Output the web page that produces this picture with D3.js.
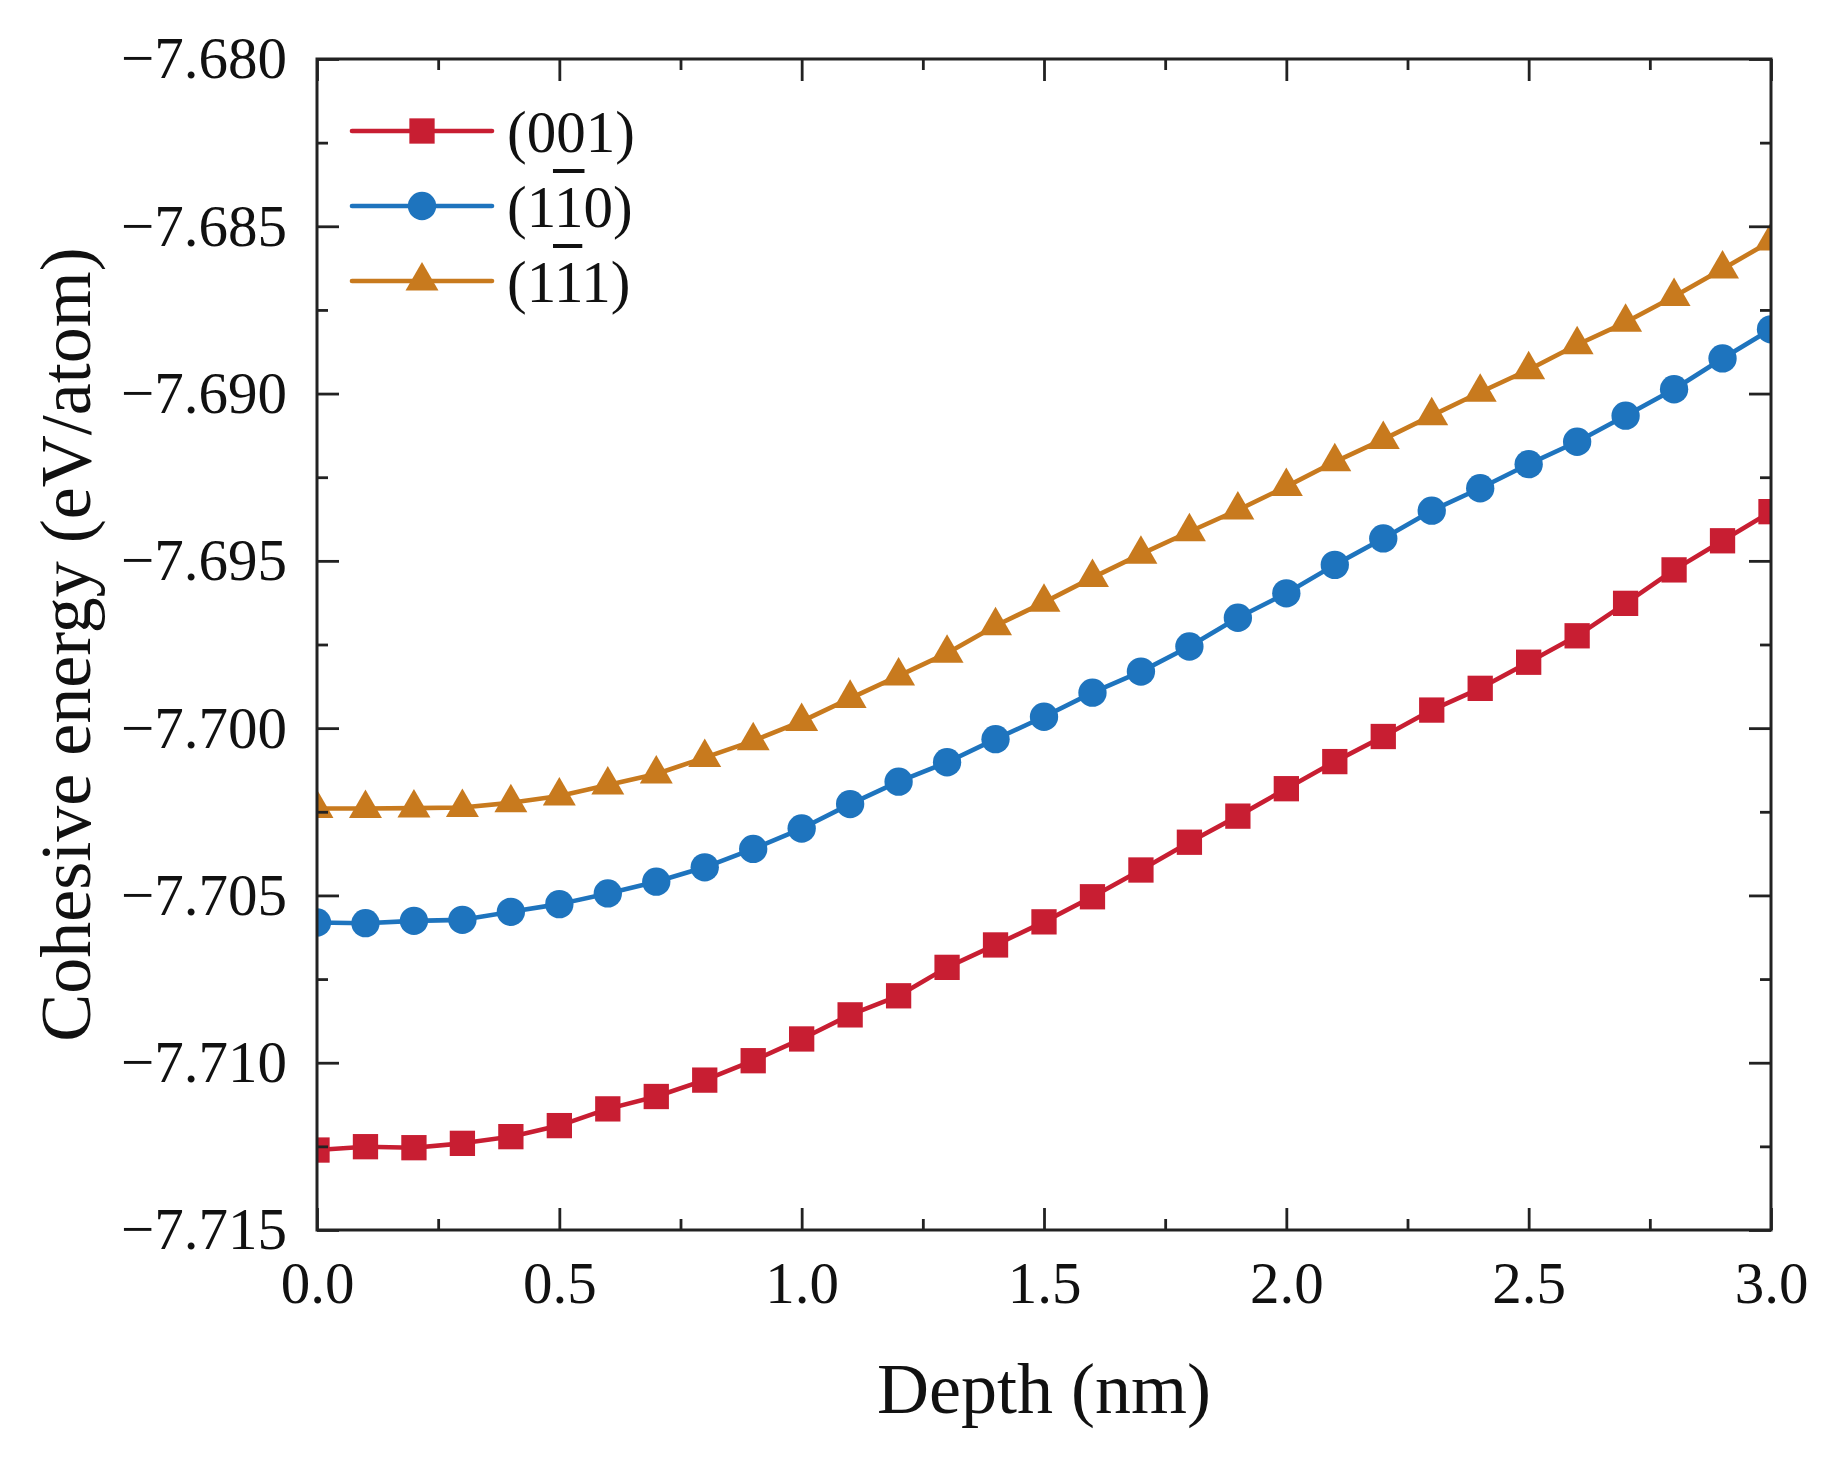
<!DOCTYPE html>
<html>
<head>
<meta charset="utf-8">
<script src="https://cdn.jsdelivr.net/npm/d3@7"></script>
<style>
  html, body { margin: 0; padding: 0; background: #fff; }
  svg { display: block; }
  text { font-family: "Liberation Serif", "Times New Roman", serif; fill: #111; }
</style>
</head>
<body>
<svg id="chart" width="1837" height="1462"></svg>
<script>
// ---------------- data ----------------
const depth = [0.0, 0.1, 0.2, 0.3, 0.4, 0.5, 0.6, 0.7, 0.8, 0.9, 1.0,
               1.1, 1.2, 1.3, 1.4, 1.5, 1.6, 1.7, 1.8, 1.9, 2.0,
               2.1, 2.2, 2.3, 2.4, 2.5, 2.6, 2.7, 2.8, 2.9, 3.0];

const e001 = [-7.71261, -7.71251, -7.71254, -7.71241, -7.71221, -7.71188, -7.71138, -7.71101, -7.71052, -7.70994, -7.70929,
              -7.70857, -7.70800, -7.70715, -7.70648, -7.70579, -7.70504, -7.70424, -7.70341, -7.70263, -7.70181,
              -7.70100, -7.70025, -7.69946, -7.69881, -7.69803, -7.69724, -7.69627, -7.69527, -7.69440, -7.69353];

const e1m10 = [-7.70581, -7.70583, -7.70576, -7.70573, -7.70549, -7.70526, -7.70494, -7.70459, -7.70416, -7.70361, -7.70300,
               -7.70227, -7.70160, -7.70102, -7.70033, -7.69966, -7.69894, -7.69831, -7.69756, -7.69670, -7.69597,
               -7.69512, -7.69433, -7.69350, -7.69283, -7.69211, -7.69144, -7.69066, -7.68987, -7.68895, -7.68808];

const e1m11 = [-7.70240, -7.70240, -7.70239, -7.70237, -7.70223, -7.70203, -7.70170, -7.70137, -7.70088, -7.70038, -7.69980,
               -7.69911, -7.69844, -7.69776, -7.69694, -7.69624, -7.69550, -7.69480, -7.69413, -7.69348, -7.69278,
               -7.69204, -7.69137, -7.69066, -7.68996, -7.68929, -7.68854, -7.68787, -7.68710, -7.68628, -7.68544];

// legend labels; a part with bar:true is drawn with an overbar (Miller index notation)
const legendParts = [
  [{t: "(001)", bar: false}],
  [{t: "(1", bar: false}, {t: "1", bar: true}, {t: "0)", bar: false}],
  [{t: "(1", bar: false}, {t: "1", bar: true}, {t: "1)", bar: false}]
];
const seriesColors = ["#C81E32", "#1E74BE", "#C87A1E"];
const seriesShapes = ["square", "circle", "triangle"];

const xMajorTicks = [0.0, 0.5, 1.0, 1.5, 2.0, 2.5, 3.0];
const xMinorTicks = [0.25, 0.75, 1.25, 1.75, 2.25, 2.75];
const yMajorTicks = [-7.680, -7.685, -7.690, -7.695, -7.700, -7.705, -7.710, -7.715];
const yMinorTicks = [-7.6825, -7.6875, -7.6925, -7.6975, -7.7025, -7.7075, -7.7125];

const xTitle = "Depth (nm)";
const yTitle = "Cohesive energy (eV/atom)";

// ---------------- layout ----------------
const L = 317, R = 1771, T = 59, B = 1230;
const svg = d3.select("#chart");

const x = d3.scaleLinear().domain([0, 3]).range([L, R]);
const y = d3.scaleLinear().domain([-7.715, -7.680]).range([B, T]);

const series = [e001, e1m10, e1m11].map((vals, i) => ({
  values: depth.map((d, j) => ({x: d, y: vals[j]})),
  color: seriesColors[i],
  shape: seriesShapes[i]
}));

const symbolFor = s => s === "square" ? d3.symbol(d3.symbolSquare, 640)
                     : s === "circle" ? d3.symbol(d3.symbolCircle, 630)
                     : d3.symbol(d3.symbolTriangle, 470);

// clip
svg.append("defs").append("clipPath").attr("id", "plotclip")
  .append("rect").attr("x", L).attr("y", T).attr("width", R - L).attr("height", B - T);

const plot = svg.append("g").attr("clip-path", "url(#plotclip)");
const line = d3.line().x(d => x(d.x)).y(d => y(d.y));

series.forEach(s => {
  plot.append("path").datum(s.values)
    .attr("d", line).attr("fill", "none")
    .attr("stroke", s.color).attr("stroke-width", 4.6).attr("stroke-linejoin", "round");
  plot.selectAll(null).data(s.values).enter().append("path")
    .attr("d", symbolFor(s.shape))
    .attr("transform", d => `translate(${x(d.x)},${y(d.y)})`)
    .attr("fill", s.color);
});

// ---------------- axes ----------------
const fmtX = d3.format(".1f");
const fmtY = d3.format(".3f");
const axisColor = "#222";

function styleAxis(g) {
  g.select(".domain").remove();
  g.selectAll(".tick line").attr("stroke", axisColor).attr("stroke-width", 2.8);
  g.selectAll(".tick text").style("font-size", "59px").attr("fill", "#111")
    .style("font-family", '"Liberation Serif", "Times New Roman", serif');
}

// bottom
svg.append("g").attr("transform", `translate(0,${B})`)
  .call(d3.axisBottom(x).tickValues(xMajorTicks).tickSize(-22).tickPadding(31).tickFormat(fmtX))
  .call(styleAxis);
svg.append("g").attr("transform", `translate(0,${B})`)
  .call(d3.axisBottom(x).tickValues(xMinorTicks).tickSize(-11).tickFormat(""))
  .call(styleAxis);
// top
svg.append("g").attr("transform", `translate(0,${T})`)
  .call(d3.axisTop(x).tickValues(xMajorTicks).tickSize(-22).tickFormat(""))
  .call(styleAxis);
svg.append("g").attr("transform", `translate(0,${T})`)
  .call(d3.axisTop(x).tickValues(xMinorTicks).tickSize(-11).tickFormat(""))
  .call(styleAxis);
// left
svg.append("g").attr("transform", `translate(${L},0)`)
  .call(d3.axisLeft(y).tickValues(yMajorTicks).tickSize(-22).tickPadding(30).tickFormat(fmtY))
  .call(styleAxis);
svg.append("g").attr("transform", `translate(${L},0)`)
  .call(d3.axisLeft(y).tickValues(yMinorTicks).tickSize(-11).tickFormat(""))
  .call(styleAxis);
// right
svg.append("g").attr("transform", `translate(${R},0)`)
  .call(d3.axisRight(y).tickValues(yMajorTicks).tickSize(-22).tickFormat(""))
  .call(styleAxis);
svg.append("g").attr("transform", `translate(${R},0)`)
  .call(d3.axisRight(y).tickValues(yMinorTicks).tickSize(-11).tickFormat(""))
  .call(styleAxis);

// frame
svg.append("rect").attr("x", L).attr("y", T).attr("width", R - L).attr("height", B - T)
  .attr("fill", "none").attr("stroke", axisColor).attr("stroke-width", 3);

// titles
svg.append("text").attr("x", (L + R) / 2).attr("y", 1413)
  .attr("text-anchor", "middle").style("font-size", "72px").text(xTitle);
svg.append("text").attr("transform", `translate(90,${(T + B) / 2}) rotate(-90)`)
  .attr("text-anchor", "middle").style("font-size", "72px").text(yTitle);

// ---------------- legend ----------------
const legRows = [131, 206, 281];
const legX0 = 352, legX1 = 492, legMarkX = 422, legTextX = 507, legFont = 59;
series.forEach((s, i) => {
  const g = svg.append("g");
  g.append("line").attr("x1", legX0).attr("x2", legX1)
    .attr("y1", legRows[i]).attr("y2", legRows[i])
    .attr("stroke", s.color).attr("stroke-width", 4.6).attr("stroke-linecap", "round");
  g.append("path").attr("d", symbolFor(s.shape)())
    .attr("transform", `translate(${legMarkX},${legRows[i]})`).attr("fill", s.color);
  const baseline = legRows[i] + 21;
  const txt = g.append("text").attr("x", legTextX).attr("y", baseline)
    .style("font-size", legFont + "px");
  legendParts[i].forEach(p => txt.append("tspan").text(p.t));
  // overbars
  let idx = 0;
  const node = txt.node();
  legendParts[i].forEach(p => {
    if (p.bar) {
      const ext = node.getExtentOfChar(idx);
      g.append("line")
        .attr("x1", ext.x - 1).attr("x2", ext.x + ext.width + 1)
        .attr("y1", baseline - 56).attr("y2", baseline - 56)
        .attr("stroke", "#111").attr("stroke-width", 4);
    }
    idx += p.t.length;
  });
});
</script>
</body>
</html>
